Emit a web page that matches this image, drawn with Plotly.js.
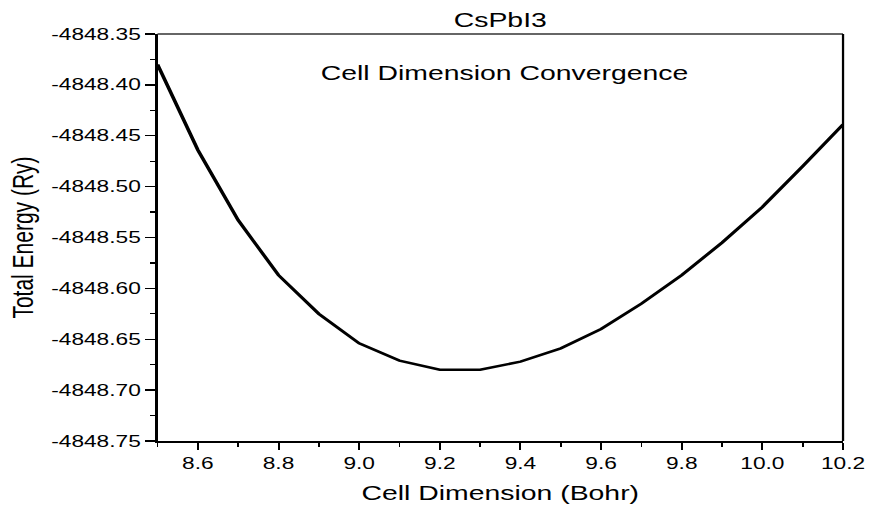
<!DOCTYPE html>
<html>
<head>
<meta charset="utf-8">
<script src="https://cdn.plot.ly/plotly-3.0.1.min.js"></script>
<style>
  html, body { margin: 0; padding: 0; background: #ffffff; overflow: hidden; width: 870px; height: 509px; }
  /* the figure is laid out narrow and widened to the page, giving the broad lettering */
  #chart { width: 613px; height: 509px; transform: scaleX(1.41925); transform-origin: 0 0; }
</style>
</head>
<body>
<div id="chart"></div>
<script>
// Lattice parameter scan for CsPbI3 (cell dimension in Bohr, total energy in Ry)
const cellDimension = [8.5, 8.6, 8.7, 8.8, 8.9, 9.0, 9.1, 9.2, 9.3, 9.4, 9.5, 9.6, 9.7, 9.8, 9.9, 10.0, 10.1, 10.2];
const totalEnergy = [
  -4848.380, -4848.464, -4848.533, -4848.587, -4848.625, -4848.654,
  -4848.671, -4848.680, -4848.680, -4848.672, -4848.659, -4848.640,
  -4848.615, -4848.587, -4848.555, -4848.520, -4848.480, -4848.439
];

const xTickValues = [8.6, 8.8, 9.0, 9.2, 9.4, 9.6, 9.8, 10.0, 10.2];
const xTickLabels = ['8.6', '8.8', '9.0', '9.2', '9.4', '9.6', '9.8', '10.0', '10.2'];
const yTickValues = [-4848.75, -4848.70, -4848.65, -4848.60, -4848.55, -4848.50, -4848.45, -4848.40, -4848.35];
const yTickLabels = ['-4848.75', '-4848.70', '-4848.65', '-4848.60', '-4848.55', '-4848.50', '-4848.45', '-4848.40', '-4848.35'];

const FONT = 'Liberation Sans, Arial, Helvetica, sans-serif';

const trace = {
  x: cellDimension,
  y: totalEnergy,
  type: 'scatter',
  mode: 'lines',
  line: { color: '#000000', width: 2.6, shape: 'linear' },
  hoverinfo: 'skip'
};

const layout = {
  width: 613,
  height: 509,
  margin: { l: 110.6, r: 18.6, t: 34, b: 68 },
  paper_bgcolor: '#ffffff',
  plot_bgcolor: '#ffffff',
  showlegend: false,
  font: { family: FONT, color: '#000000', size: 16 },
  title: {
    text: 'CsPbI3',
    font: { family: FONT, size: 20, color: '#000000' },
    xref: 'paper', x: 0.5, xanchor: 'center',
    yref: 'container', y: 0.96, yanchor: 'middle'
  },
  xaxis: {
    range: [8.5, 10.2],
    tickmode: 'array',
    tickvals: xTickValues,
    ticktext: xTickLabels,
    ticks: 'outside',
    ticklen: 7,
    tickwidth: 1.4,
    tickcolor: '#000000',
    tickfont: { family: FONT, size: 16, color: '#000000' },
    minor: { dtick: 0.1, tick0: 8.5, ticks: 'outside', ticklen: 4, tickwidth: 1.2, tickcolor: '#000000', showgrid: false },
    showline: true,
    linecolor: '#000000',
    linewidth: 1.6,
    mirror: false,
    showgrid: false,
    zeroline: false,
    title: { text: 'Cell Dimension (Bohr)', font: { family: FONT, size: 20, color: '#000000' }, standoff: 15 }
  },
  yaxis: {
    range: [-4848.75, -4848.35],
    tickmode: 'array',
    tickvals: yTickValues,
    ticktext: yTickLabels,
    ticks: 'outside',
    ticklen: 7,
    tickwidth: 1.4,
    tickcolor: '#000000',
    tickfont: { family: FONT, size: 16, color: '#000000' },
    minor: { dtick: 0.025, tick0: -4848.75, ticks: 'outside', ticklen: 3.5, tickwidth: 1.2, tickcolor: '#000000', showgrid: false },
    showline: true,
    linecolor: '#000000',
    linewidth: 1.6,
    mirror: false,
    showgrid: false,
    zeroline: false,
    title: { text: 'Total Energy (Ry)', font: { family: FONT, size: 21, color: '#000000' }, standoff: 6 }
  },
  shapes: [
    // frame: thin top edge and tick-free right edge
    { type: 'line', xref: 'paper', yref: 'paper', x0: 0, x1: 1, y0: 1, y1: 1, line: { color: '#333333', width: 1.3 } },
    { type: 'line', xref: 'paper', yref: 'paper', x0: 1, x1: 1, y0: 0, y1: 1, line: { color: '#000000', width: 1.6 } }
  ],
  annotations: [
    {
      text: 'Cell Dimension Convergence',
      xref: 'paper', yref: 'paper',
      x: 0.507, y: 0.905,
      xanchor: 'center', yanchor: 'middle',
      showarrow: false,
      font: { family: FONT, size: 20, color: '#000000' }
    }
  ]
};

Plotly.newPlot('chart', [trace], layout, { displayModeBar: false, staticPlot: true });
</script>
</body>
</html>
